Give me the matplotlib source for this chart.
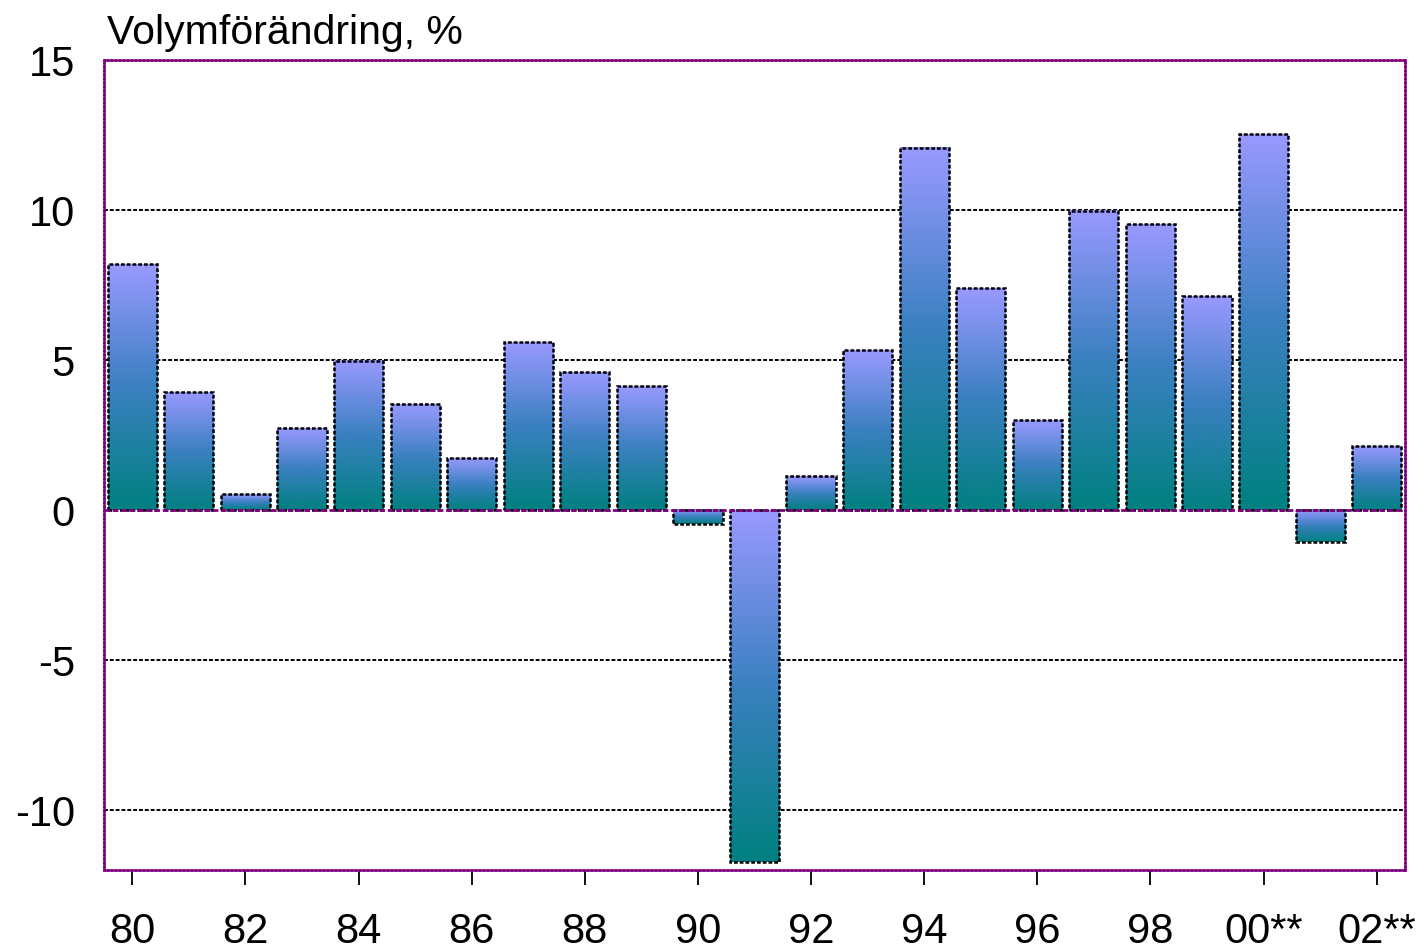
import numpy as np
import matplotlib
matplotlib.use("Agg")
import matplotlib.pyplot as plt
from matplotlib.colors import LinearSegmentedColormap

plt.rcParams['font.family'] = ['Liberation Sans', 'DejaVu Sans']

years = ['80', '81', '82', '83', '84', '85', '86', '87', '88', '89', '90', '91',
         '92', '93', '94', '95', '96', '97', '98', '99', '00**', '01**', '02**']
values = [8.2, 3.93, 0.53, 2.73, 4.97, 3.53, 1.73, 5.6, 4.6, 4.13, -0.47, -11.73,
          1.13, 5.33, 12.07, 7.4, 3.0, 9.97, 9.53, 7.13, 12.53, -1.07, 2.13]
yticks = [-10, -5, 0, 5, 10, 15]

cmap = LinearSegmentedColormap.from_list('bar', ['#008080', '#3a80c0', '#9999ff'])
grad = np.linspace(0, 1, 256).reshape(-1, 1)

fig = plt.figure(figsize=(14.21, 9.5), dpi=100)
ax = fig.add_axes([104 / 1421, 80 / 950, 1301 / 1421, 810 / 950])

x = np.arange(len(values))
width = 0.87
bars = ax.bar(x, values, width=width, facecolor='none', edgecolor='black',
              linewidth=1.8, linestyle=(0, (1.5, 0.8)), zorder=3)
for b in bars:
    x0 = b.get_x()
    y0 = min(b.get_y(), b.get_y() + b.get_height())
    y1 = max(b.get_y(), b.get_y() + b.get_height())
    ax.imshow(grad, cmap=cmap, origin='lower', aspect='auto',
              extent=(x0, x0 + width, y0, y1), zorder=2)

ax.set_xlim(-0.5, len(values) - 0.5)
ax.set_ylim(-12, 15)
ax.set_yticks(yticks)
ax.set_yticklabels([str(v) for v in yticks])
ax.set_xticks(x[::2])
ax.set_xticklabels(years[::2])

for v in [-10, -5, 5, 10]:
    ax.axhline(v, color='black', linewidth=1.4, linestyle=(0, (2, 1)), zorder=1)
ax.axhline(0, color='#800080', linewidth=2, linestyle=(0, (2, 1)), zorder=4)

for s in ax.spines.values():
    s.set_color('#800080')
    s.set_linewidth(1.8)
    s.set_linestyle((0, (1, 0.6)))

ax.tick_params(axis='y', length=0, pad=21, labelsize=30)
ax.tick_params(axis='x', length=11, width=1.3, color='black', direction='out',
               pad=19, labelsize=30)

ax.text(0.002, 1.01, 'Volymförändring, %', transform=ax.transAxes,
        fontsize=29.5, ha='left', va='bottom')

fig.savefig('out.png', dpi=100, facecolor='white')
